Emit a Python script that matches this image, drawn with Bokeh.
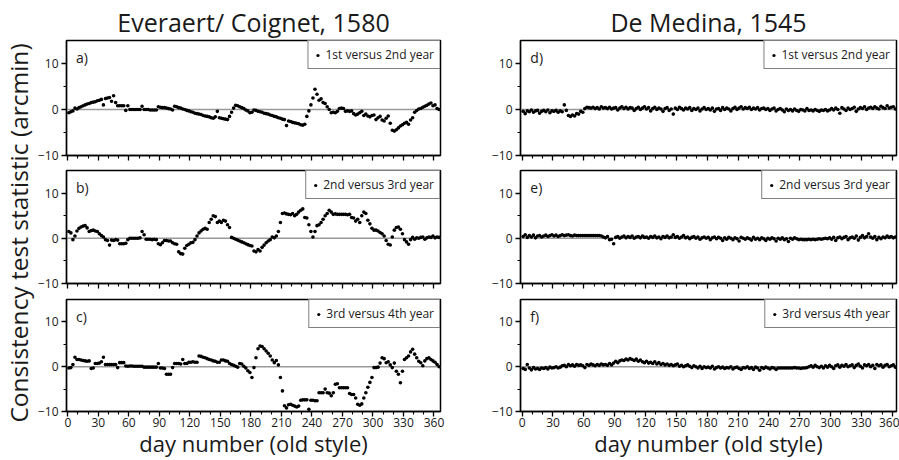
from bokeh.plotting import figure
from bokeh.layouts import row, column
from bokeh.models import (Span, Label, Legend, LegendItem, FixedTicker, Range1d,
                          Title, ColumnDataSource, CustomLabelingPolicy)
from bokeh.embed import file_html
from bokeh.resources import INLINE

FONT = "Open Sans"
TXT = "#1a1a1a"

column_titles = ["Everaert/ Coignet, 1580", "De Medina, 1545"]
panel_tags = [["a)", "b)", "c)"], ["d)", "e)", "f)"]]
series_names = ["1st versus 2nd year", "2nd versus 3rd year", "3rd versus 4th year"]
y_label = "Consistency test statistic (arcmin)"
x_label = "day number (old style)"
x_major_ticks = [0, 30, 60, 90, 120, 150, 180, 210, 240, 270, 300, 330, 360]
x_minor_ticks = [10, 20, 40, 50, 70, 80, 100, 110, 130, 140, 160, 170, 190, 200,
                 220, 230, 250, 260, 280, 290, 310, 320, 340, 350]
y_major_ticks = [-10, 0, 10]
y_minor_ticks = [-5, 5]

# values read every second day (day 1, 3, 5, ... 365)
everaert_1_2 = [
    -0.7, -0.5, -0.3, 0.3, 0.1, 0.4, 0.6, 0.8, 1.0, 1.2,
    1.3, 1.5, 1.6, 1.7, 1.9, 2.0, 2.2, 1.0, 2.4, 2.5,
    2.6, 1.8, 3.0, 1.5, 0.8, 0.8, 0.8, 0.8, -0.2, 0.8,
    0.0, 0.0, 0.0, 0.0, 0.0, 0.0, 0.7, 0.0, 0.0, 0.0,
    -0.1, -0.1, -0.1, -0.1, 0.6, 0.5, 0.4, 0.4, 0.3, 0.2,
    0.1, -0.1, 0.7, 0.6, 0.4, 0.3, 0.1, 0.0, -0.2, -0.3,
    -0.5, -0.6, -0.8, -0.9, -1.0, -1.1, -1.3, -1.4, -1.5, -1.6,
    -1.8, -1.9, -1.6, -0.4, -1.8, -1.9, -2.0, -2.1, -2.2, -1.5,
    -0.6, 0.3, 0.9, 0.8, 0.6, 0.4, 0.2, -0.1, -0.3, -0.7,
    -0.6, -0.1, -0.2, -0.4, -0.5, -0.6, -0.8, -0.9, -1.0, -1.2,
    -1.3, -1.5, -1.6, -1.8, -1.9, -2.1, -2.2, -3.5, -2.5, -2.6,
    -2.8, -2.9, -3.0, -3.1, -3.3, -3.4, -3.2, -1.5, -0.3, 1.0,
    2.5, 4.4, 3.3, 2.0, 2.3, 1.5, 1.3, 0.6, 0.0, -0.7,
    -0.6, -0.7, -0.4, 0.2, 0.3, 0.2, -0.4, -0.3, -0.4, -0.3,
    -0.9, -1.2, -1.0, -0.7, -0.4, -1.3, -1.0, -1.4, -1.6, -1.3,
    -1.2, -2.2, -1.8, -1.5, -2.3, -2.5, -1.9, -1.4, -3.0, -4.5,
    -4.7, -4.4, -4.0, -3.6, -3.3, -3.0, -2.8, -3.2, -2.3, -1.8,
    -0.6, -0.2, 0.1, 0.2, 0.5, 0.7, 0.9, 1.2, 1.4, 0.8,
    1.0, 0.2, 0.0,
]
everaert_2_3 = [
    1.5, 1.2, -0.3, 0.5, 1.6, 2.2, 2.5, 2.7, 2.8, 2.3,
    1.5, 1.7, 1.8, 1.6, 1.5, 1.0, 0.6, 0.3, -0.3, -0.5,
    -1.5, -0.4, -0.5, -0.3, -0.4, -1.2, -1.2, -1.2, -1.1, -0.3,
    0.0, 0.0, 0.0, 0.0, 0.0, 0.1, 1.5, 0.8, -0.2, -0.2,
    -0.2, -0.3, -0.2, -0.3, -1.2, -1.4, -1.0, -0.5, -0.5, -0.6,
    -0.6, -1.0, -1.2, -1.3, -3.0, -3.4, -3.5, -2.2, -1.6, -1.3,
    -1.0, -0.9, -0.3, 0.5, 1.2, 1.6, 2.0, 2.2, 2.0, 3.5,
    4.2, 5.0, 4.8, 3.5, 3.8, 3.5, 4.0, 3.8, 3.0, 2.4,
    0.2, 0.0, -0.2, -0.4, -0.6, -0.8, -1.0, -1.2, -1.4, -1.6,
    -1.7, -2.8, -3.0, -2.5, -2.8, -2.0, -1.5, -1.0, -0.6, -0.3,
    0.3, 0.1, 0.5, 1.5, 3.5, 5.5, 5.6, 5.4, 5.3, 5.2,
    5.5, 5.0, 5.3, 5.8, 6.2, 6.5, 4.6, 4.5, 3.0, 1.5,
    0.3, 1.5, 2.8, 3.0, 3.5, 4.2, 5.0, 5.5, 6.2, 5.8,
    5.3, 5.4, 5.3, 5.3, 5.3, 5.3, 5.3, 5.2, 5.3, 4.6,
    4.5, 3.8, 4.2, 3.5, 5.0, 5.8, 5.5, 4.0, 3.2, 2.2,
    1.8, 1.8, 1.6, 1.3, 1.0, 0.5, -0.5, -1.3, -1.5, 0.3,
    1.8, 2.4, 2.5, 2.0, 1.0, -0.3, -0.8, -1.3, -0.3, 0.2,
    -0.2, 0.1, 0.0, 0.2, 0.3, -0.2, 0.1, 0.3, 0.2, 0.5,
    0.1, 0.3, 0.2,
]
everaert_3_4 = [
    -0.3, -0.2, 0.5, 2.1, 1.6, 1.6, 1.5, 1.4, 1.3, 1.2,
    1.3, -0.4, -0.3, 0.7, 0.7, 0.8, 1.1, 2.1, 0.5, 0.5,
    0.5, 0.5, 0.5, 0.5, -0.2, 0.9, 0.9, 0.9, 0.15, 0.1,
    0.15, 0.15, 0.1, 0.1, 0.1, 0.1, 0.1, -0.1, -0.1, -0.1,
    -0.1, -0.1, -0.1, -0.1, 0.7, -0.3, -0.3, -0.4, -1.7, -1.7,
    -1.7, -0.2, 0.7, 0.7, 0.7, 0.6, 1.6, 0.7, 0.7, 1.0,
    1.0, 1.1, 1.0, 1.0, 2.4, 2.3, 2.1, 2.0, 1.8, 1.6,
    1.5, 1.3, 1.2, 1.0, 1.0, 1.5, 1.5, 1.3, 1.2, 0.7,
    0.5, 0.3, 0.1, -0.1, 0.7, 0.6, 0.1, -0.3, -0.9, -1.3,
    -2.4, -0.2, 2.0, 4.0, 4.6, 4.5, 4.0, 3.5, 3.0, 2.4,
    1.5, 0.9, 1.4, 0.4, -2.4, -5.4, -8.7, -9.2, -8.5, -8.4,
    -8.6, -8.8, -9.0, -8.8, -7.5, -7.4, -7.4, -7.4, -9.5, -7.5,
    -7.5, -7.6, -7.6, -5.8, -5.8, -5.8, -5.0, -5.8, -5.9, -6.5,
    -5.8, -3.9, -3.8, -4.7, -4.7, -4.7, -4.7, -4.7, -6.0, -6.2,
    -6.2, -7.0, -8.4, -8.6, -8.3, -7.0, -5.8, -4.6, -3.5, -2.4,
    -0.2, -0.2, -0.1, 0.8, 2.0, 1.8, 0.9, 1.1, 0.4, -0.2,
    0.8, -1.0, -1.7, -3.6, -1.0, 1.6, 2.0, 2.4, 3.3, 3.9,
    2.8, 2.0, 1.2, 0.9, 0.2, 1.3, 1.8, 2.0, 1.6, 1.3,
    1.0, 0.5, 0.0,
]
medina_1_2 = [
    -0.4, -0.9, -0.3, -0.5, -0.1, -0.6, -0.3, -0.2, -0.8, -0.4,
    -0.2, -0.5, -0.1, -0.7, -0.3, -0.4, -0.2, -0.6, -0.3, -0.5,
    1.0, -0.2, -1.3, -1.5, -1.2, -1.4, -0.9, -1.0, -0.4, -0.6,
    0.2, 0.5, 0.4, 0.3, 0.5, 0.2, 0.4, 0.1, 0.6, 0.3,
    0.4, 0.2, 0.5, 0.1, 0.3, 0.4, -0.1, 0.3, 0.6, 0.2,
    0.5, 0.1, 0.4, 0.3, -0.2, 0.2, 0.5, 0.0, 0.3, 0.6,
    0.1, 0.4, -0.3, 0.2, 0.5, 0.0, 0.3, 0.1, -0.4, 0.2,
    0.4, -0.2, 0.1, -1.0, 0.3, 0.0, 0.5, 0.2, -0.1, 0.3,
    0.1, 0.4, -0.2, 0.2, 0.0, 0.3, -0.3, 0.1, 0.4, 0.0,
    0.2, -0.1, 0.3, -0.4, 0.1, 0.2, -0.2, 0.4, 0.0, 0.3,
    0.1, -0.3, 0.2, 0.5, 0.0, 0.3, 0.6, 0.1, 0.4, 0.2,
    0.5, 0.0, 0.3, 0.1, 0.4, -0.1, 0.2, 0.3, 0.0, 0.2,
    -0.2, 0.1, 0.3, -0.3, 0.0, 0.2, -0.1, -0.5, 0.1, -0.2,
    0.0, -0.3, 0.1, -0.2, -0.4, 0.0, -0.1, -0.3, 0.2, -0.2,
    -0.1, -0.3, 0.0, -0.2, -0.4, -0.1, -0.2, 0.0, -0.3, -0.1,
    0.2, -0.1, 0.3, 0.0, -0.8, 0.4, 0.1, -0.2, 0.3, 0.0,
    0.2, 0.5, -0.4, 0.1, 0.4, 0.2, 0.6, 0.0, 0.3, 0.5,
    0.2, 0.6, 0.3, 0.1, 0.7, 0.4, 0.2, 0.8, 0.3, 0.5,
    0.6, 0.1, 0.3,
]
medina_2_3 = [
    0.4, 0.8, 0.2, 0.6, 0.3, 0.7, 0.1, 0.5, 0.6, 0.3,
    0.5, 0.7, 0.4, 0.6, 0.8, 0.5, 0.7, 0.4, 0.6, 0.8,
    0.6, 0.7, 0.8, 0.6, 0.5, 0.7, 0.6, 0.6, 0.6, 0.6,
    0.6, 0.6, 0.6, 0.6, 0.6, 0.6, 0.6, 0.6, 0.5, 0.3,
    0.1, 0.4, -0.3, -0.2, -1.2, 0.2, 0.4, 0.0, 0.3, 0.5,
    0.1, 0.4, 0.2, 0.5, 0.0, 0.3, 0.4, 0.1, 0.5, 0.2,
    0.3, 0.0, 0.4, 0.2, 0.5, 0.1, 0.3, -0.1, 0.4, 0.2,
    0.5, 0.1, 0.3, 0.8, 0.2, 0.4, 0.0, 0.3, 0.6, 0.1,
    0.3, -0.1, 0.2, 0.4, 0.0, 0.3, -0.2, 0.1, 0.3, 0.0,
    0.2, -0.3, 0.1, 0.3, -0.1, 0.2, 0.0, -0.5, 0.1, -0.2,
    0.2, 0.0, -0.3, 0.1, -0.1, -0.6, 0.2, 0.0, -0.2, 0.1,
    -0.1, -0.4, 0.2, -0.2, 0.0, -0.3, 0.1, -0.1, -0.5, 0.0,
    -0.2, 0.1, -0.1, -0.6, 0.0, -0.2, 0.1, -0.3, -0.1, -0.7,
    0.0, -0.2, 0.1, -0.1, -0.3, -0.2, -0.3, -0.3, -0.3, -0.2,
    -0.3, -0.2, -0.3, -0.2, -0.1, -0.2, -0.1, 0.0, -0.1, 0.1,
    -0.2, 0.2, -0.5, 0.1, 0.3, -0.1, 0.2, 0.4, -0.3, 0.1,
    0.3, 0.0, 0.5, -0.4, 0.2, 0.6, 0.1, 0.4, 1.0, 0.3,
    0.0, 0.4, -0.3, 0.2, -0.1, 0.3, 0.1, 0.5, 0.2, 0.4,
    0.1, 0.3, 0.2,
]
medina_3_4 = [
    -0.4, -0.6, 0.5, -0.3, -0.7, -0.2, -0.5, -0.4, -0.6, -0.3,
    -0.4, -0.2, -0.5, -0.1, -0.3, -0.2, 0.0, -0.3, -0.1, 0.2,
    0.3, 0.0, 0.5, 0.2, 0.4, 0.1, 0.5, 0.3, 0.4, 0.2,
    -0.2, 0.5, 0.3, 0.6, 0.4, 0.2, 0.5, 0.3, 0.6, 0.4,
    0.5, 0.3, 0.7, 0.4, 0.8, 1.2, 0.9, 1.3, 1.5, 1.4,
    1.7, 1.5, 1.8, 1.6, 1.4, 1.7, 1.2, 1.5, 1.1, 0.9,
    1.2, 0.8, 1.0, 0.7, 1.1, 0.6, 0.9, 0.5, 0.7, 0.4,
    0.6, 0.3, 0.5, 0.2, 0.4, 0.6, 0.1, 0.3, 0.0, 0.2,
    0.4, 0.1, -0.2, 0.2, 0.0, -0.3, 0.1, -0.4, 0.0, -0.2,
    -0.1, -0.3, 0.1, -0.5, -0.2, 0.0, -0.3, -0.1, -0.4, -0.2,
    -0.3, 0.0, -0.5, -0.2, -0.1, -0.4, -0.6, -0.2, -0.3, 0.0,
    -0.4, -0.2, -0.6, -0.1, -0.3, -0.8, -0.2, -0.4, -0.1, -0.3,
    -0.5, -0.2, -0.3, -0.6, -0.3, -0.3, -0.3, -0.3, -0.3, -0.3,
    -0.3, -0.3, -0.2, -0.3, -0.3, -0.4, -0.3, -0.3, -0.2, 0.0,
    0.2, -0.1, 0.3, 0.0, -0.2, 0.1, -0.3, 0.2, -0.1, 0.3,
    0.0, -0.4, 0.2, 0.4, -0.1, 0.3, 0.1, 0.5, 0.0, 0.2,
    0.4, -0.2, 0.3, 0.6, 0.1, -0.3, 0.4, 0.2, 0.5, 0.0,
    0.3, -0.4, 0.5, 0.2, 0.4, -0.1, 0.3, 0.5, 0.0, 0.2,
    0.4, -0.1, 0.2,
]

panel_data = [[everaert_1_2, everaert_2_3, everaert_3_4],
              [medina_1_2, medina_2_3, medina_3_4]]

HEIGHTS = [163, 128, 169]
TOPS = [40, 7, 8]
BOTTOMS = [8, 8, 48]


def make_panel(vals, tag, name, col, r):
    if col == 0:
        w, bl, br = 436, 28, 30
        xr = Range1d(-1.3, 366.4)
    else:
        w, bl, br = 429, 50, 3
        xr = Range1d(-1.6, 364.1)
    p = figure(width=w, height=HEIGHTS[r], x_range=xr, y_range=Range1d(-10, 15),
               output_backend="svg", toolbar_location=None,
               title=(column_titles[col] if r == 0 else None),
               min_border_left=bl, min_border_right=br,
               min_border_top=TOPS[r], min_border_bottom=BOTTOMS[r])
    if r == 0:
        p.title.align = "center"
        p.title.text_font = FONT
        p.title.text_font_size = "25px"
        p.title.text_font_style = "normal"
        p.title.text_color = TXT
        p.title.standoff = 3
    p.xgrid.visible = False
    p.ygrid.visible = False
    p.outline_line_color = "black"
    p.outline_line_width = 1.5
    p.background_fill_color = "white"
    p.border_fill_color = "white"

    p.xaxis.ticker = FixedTicker(ticks=x_major_ticks, minor_ticks=x_minor_ticks)
    p.yaxis.ticker = FixedTicker(ticks=y_major_ticks, minor_ticks=y_minor_ticks)
    for ax in (p.xaxis[0], p.yaxis[0]):
        ax.axis_line_color = "black"
        ax.axis_line_width = 1.3
        ax.major_tick_line_color = "black"
        ax.major_tick_line_width = 1.3
        ax.minor_tick_line_color = "black"
        ax.minor_tick_line_width = 1.1
        ax.major_tick_in = 0
        ax.major_tick_out = 5
        ax.minor_tick_in = 0
        ax.minor_tick_out = 3
        ax.major_label_text_font = FONT
        ax.major_label_text_color = TXT
        ax.major_label_text_font_size = "12px"
        ax.major_label_standoff = 3
    if r < 2:
        # ticks only, no labels on the upper panels
        p.xaxis.major_label_policy = CustomLabelingPolicy(code="return []")
        p.xaxis.major_label_standoff = -14
    else:
        p.xaxis.major_label_standoff = 1
        p.xaxis.axis_label = x_label
        p.xaxis.axis_label_text_font = FONT
        p.xaxis.axis_label_text_font_size = "22px"
        p.xaxis.axis_label_text_font_style = "normal"
        p.xaxis.axis_label_text_color = TXT
        p.xaxis.axis_label_standoff = -2

    p.add_layout(Span(location=0, dimension="width", line_color="#9a9a9a",
                      line_width=1.5, level="underlay"))

    days = [1 + 2 * i for i in range(len(vals))]
    src = ColumnDataSource(dict(day=days, val=vals))
    rend = p.scatter("day", "val", source=src, marker="circle", size=3.6,
                     fill_color="black", line_color=None)

    legend = Legend(items=[LegendItem(label=name, renderers=[rend])],
                    location="top_right", margin=0, padding=5, spacing=0,
                    glyph_width=8, glyph_height=8, label_standoff=4,
                    label_height=13, label_text_font=FONT,
                    label_text_font_size="12px", label_text_color=TXT,
                    border_line_color="black", border_line_width=1.5,
                    background_fill_color="white", background_fill_alpha=1)
    p.add_layout(legend)

    p.add_layout(Label(x=8, y=11.3, text=tag, text_font=FONT,
                       text_font_size="14px", text_baseline="middle",
                       text_color=TXT))
    return p


cols = []
for col in range(2):
    figs = [make_panel(panel_data[col][r], panel_tags[col][r], series_names[r], col, r)
            for r in range(3)]
    cols.append(column(*figs, spacing=0))

ylab = figure(width=34, height=460, x_axis_type=None, y_axis_type=None,
              toolbar_location=None, output_backend="svg", title=None,
              min_border_left=32, min_border_right=0, min_border_top=40,
              min_border_bottom=35, outline_line_color=None)
ylab.xgrid.visible = False
ylab.ygrid.visible = False
ylab.add_layout(Title(text=y_label, align="center", text_font=FONT,
                      text_font_size="24.5px", text_font_style="normal",
                      text_color=TXT, standoff=0), "left")

layout = row(ylab, cols[0], cols[1], spacing=0)

open("out.html", "w").write(file_html(layout, INLINE))
